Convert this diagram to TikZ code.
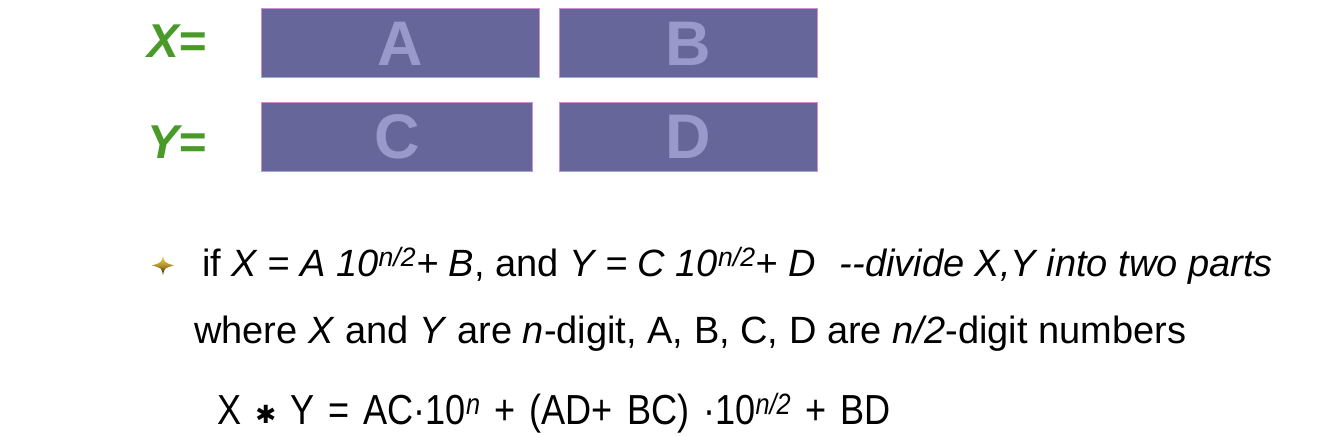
\documentclass[tikz,border=0pt]{standalone}
\usepackage{fontspec}
\setmainfont{Liberation Sans}
\newfontfamily\condfont{Liberation Sans}[FakeStretch=0.86, WordSpace=1.4]
\newfontfamily\symfont{DejaVu Sans}
\definecolor{boxfill}{HTML}{67669A}
\definecolor{boxline}{HTML}{D08FD0}
\definecolor{boxtext}{HTML}{9A99CC}
\definecolor{lblgreen}{HTML}{4A9A2A}
\definecolor{stargold}{HTML}{F8D040}
\definecolor{stardark}{HTML}{2A1A00}
\newcommand{\bigast}{{\symfont\fontsize{25}{25}\selectfont\raisebox{1pt}{✱}}}
\begin{document}
\begin{tikzpicture}[x=1pt,y=-1pt,
  part/.style={draw=boxline, line width=1pt, fill=boxfill, text=boxtext,
    font=\fontsize{63}{64}\selectfont\bfseries, inner sep=0pt, anchor=north west},
  lbl/.style={text=lblgreen, font=\fontsize{47.5}{48}\selectfont\bfseries\itshape,
    anchor=base west, inner sep=0pt},
  txt/.style={font=\fontsize{38}{40}\selectfont, anchor=base west, inner sep=0pt},
  eqn/.style={font=\fontsize{42}{44}\condfont, anchor=base west, inner sep=0pt}]
\useasboundingbox (0,0) rectangle (1344,436);
\fill[white] (0,0) rectangle (1344,436);
% boxes
\node[part, minimum width=278pt, minimum height=69pt] (A) at (261,8.5) {A};
\node[part, minimum width=258pt, minimum height=69pt] (B) at (559,8.5) {B};
\node[part, minimum width=271pt, minimum height=69pt] (C) at (261,101.5) {C};
\node[part, minimum width=258pt, minimum height=69pt] (D) at (559,101.5) {D};
% labels
\node[lbl] (lx) at (147,58) {X=};
\node[lbl] (ly) at (147,158) {Y=};
% bullet
\shade[top color=stargold, bottom color=stardark, middle color=stargold!70!black]
  (163,256) .. controls (164.5,262.5) .. (174,265.5)
  .. controls (164.5,268) .. (163,275)
  .. controls (161.5,268) .. (152,265.5)
  .. controls (161.5,262.5) .. cycle;
% text lines
\node[txt] (l1) at (202,276) {if \textit{X = A 10\textsuperscript{n/2}+ B}, and \textit{Y = C 10\textsuperscript{n/2}+ D}\hspace{24pt}\textit{-{}-divide X,Y into two parts}};
\node[txt] (l2) at (194,343) {where \textit{X} and \textit{Y} are \textit{n}-digit, A, B, C, D are \textit{n/2}-digit numbers};
\node[eqn] (l3) at (217,424) {X \bigast{} Y = AC·10\textsuperscript{\textit{n}} + (AD+ BC) ·10\textsuperscript{\textit{n/2}} + BD};
\end{tikzpicture}
\end{document}
